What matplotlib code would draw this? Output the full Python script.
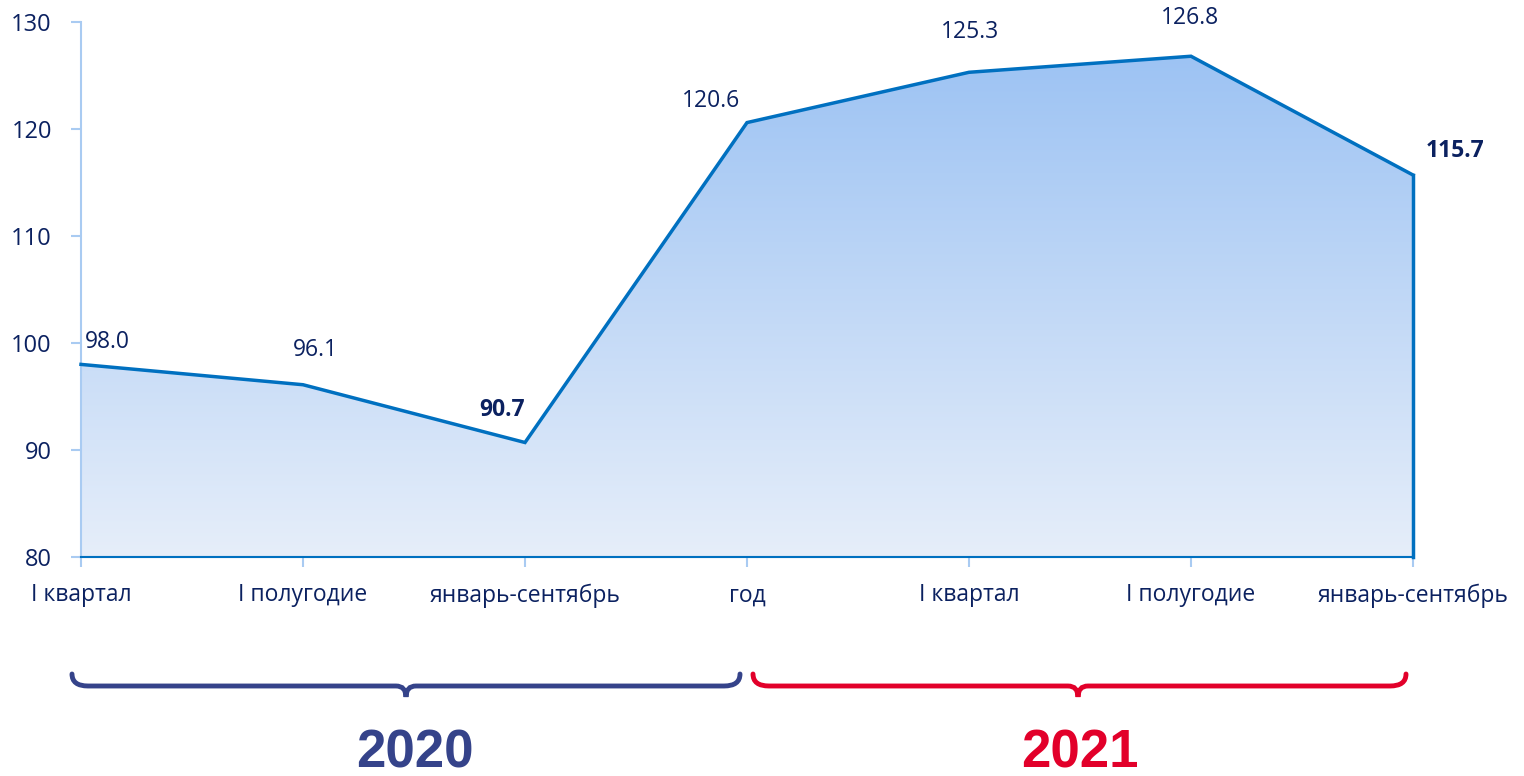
import numpy as np
import matplotlib.pyplot as plt
from matplotlib.path import Path
from matplotlib.patches import PathPatch
from matplotlib.colors import LinearSegmentedColormap

plt.rcParams['font.family'] = ['Open Sans', 'DejaVu Sans']

categories = ["I квартал", "I полугодие", "январь-сентябрь", "год",
              "I квартал", "I полугодие", "январь-сентябрь"]
values = [98.0, 96.1, 90.7, 120.6, 125.3, 126.8, 115.7]
bold_labels = [False, False, True, False, False, False, True]
# label offsets in pixels (dx, dy) relative to the point
label_offsets = [(26, 22), (12, 35), (-23, 33), (-36, 22), (1, 40), (-1, 38), (42, 24)]
years = ["2020", "2021"]
year_colors = ["#35438A", "#E2002A"]

navy = "#0B2160"
line_c = "#0070C0"
axis_c = "#A9CBF2"

fig = plt.figure(figsize=(15.24, 7.76), dpi=100)
ax = fig.add_axes([81 / 1524, 219 / 776, 1332 / 1524, 535 / 776])

x = np.arange(len(values))
ymin, ymax = 80, 130

# gradient fill under the line
cmap = LinearSegmentedColormap.from_list("g", ["#E6EEFA", "#9DC3F3"])
grad = np.linspace(0, 1, 256).reshape(-1, 1)
im = ax.imshow(grad, cmap=cmap, origin="lower", aspect="auto",
               extent=[x[0], x[-1], ymin, max(values)], zorder=1)
verts = [(x[0], ymin)] + list(zip(x, values)) + [(x[-1], ymin)]
poly = PathPatch(Path(verts), facecolor="none", edgecolor="none")
ax.add_patch(poly)
im.set_clip_path(poly)

ax.plot(x, values, color=line_c, lw=2.5, zorder=3, clip_on=False, solid_joinstyle="miter")
ax.plot([x[-1], x[-1]], [values[-1], ymin], color=line_c, lw=2.5, zorder=3, clip_on=False)
ax.axhline(ymin, color=line_c, lw=1.5, zorder=3, clip_on=False)

for xi, v, b, (dx, dy) in zip(x, values, bold_labels, label_offsets):
    ax.annotate(f"{v:.1f}", (xi, v), xytext=(dx, dy), textcoords="offset pixels",
                ha="center", va="center", fontsize=16.5, color=navy,
                fontweight="bold" if b else "normal", annotation_clip=False)

ax.set_xlim(x[0], x[-1])
ax.set_ylim(ymin, ymax)
ax.set_yticks(range(80, 131, 10))
ax.set_xticks(x)
ax.set_xticklabels(categories)
for s in ["top", "right"]:
    ax.spines[s].set_visible(False)
ax.spines["left"].set_color(axis_c)
ax.spines["left"].set_linewidth(1.5)
ax.spines["bottom"].set_color(axis_c)
ax.spines["bottom"].set_linewidth(1.5)
ax.tick_params(axis="y", colors=axis_c, labelcolor=navy, labelsize=17, length=7, width=1.5, pad=14)
ax.tick_params(axis="x", colors=axis_c, labelcolor=navy, labelsize=16.5, length=7, width=1.5, pad=12)

# overlay in pixel coordinates for braces and year labels
ov = fig.add_axes([0, 0, 1, 1])
ov.set_xlim(0, 1524)
ov.set_ylim(776, 0)
ov.axis("off")


def brace(x0, x1, xt, ytop, yline, ytip, color):
    r = 16
    verts = [(x0, ytop), (x0, yline), (x0 + r, yline), (x0 + r, yline),
             (xt - 10, yline), (xt - 10, yline),
             (xt, yline), (xt, ytip),
             (xt, yline), (xt + 10, yline), (xt + 10, yline),
             (x1 - r, yline), (x1 - r, yline),
             (x1, yline), (x1, ytop)]
    codes = [Path.MOVETO, Path.CURVE3, Path.CURVE3, Path.LINETO,
             Path.LINETO, Path.LINETO,
             Path.CURVE3, Path.CURVE3,
             Path.CURVE3, Path.CURVE3, Path.LINETO,
             Path.LINETO, Path.LINETO,
             Path.CURVE3, Path.CURVE3]
    ov.add_patch(PathPatch(Path(verts, codes), facecolor="none", edgecolor=color,
                           lw=3.5, capstyle="round"))


brace(72, 740, 406, 674, 686, 697, year_colors[0])
brace(753, 1406, 1078, 674, 686, 697, year_colors[1])
ov.text(415, 754, years[0], ha="center", va="center", fontsize=38, fontweight="bold",
        color=year_colors[0], family="Liberation Sans")
ov.text(1080, 754, years[1], ha="center", va="center", fontsize=38, fontweight="bold",
        color=year_colors[1], family="Liberation Sans")

fig.savefig("out.png", dpi=100)
